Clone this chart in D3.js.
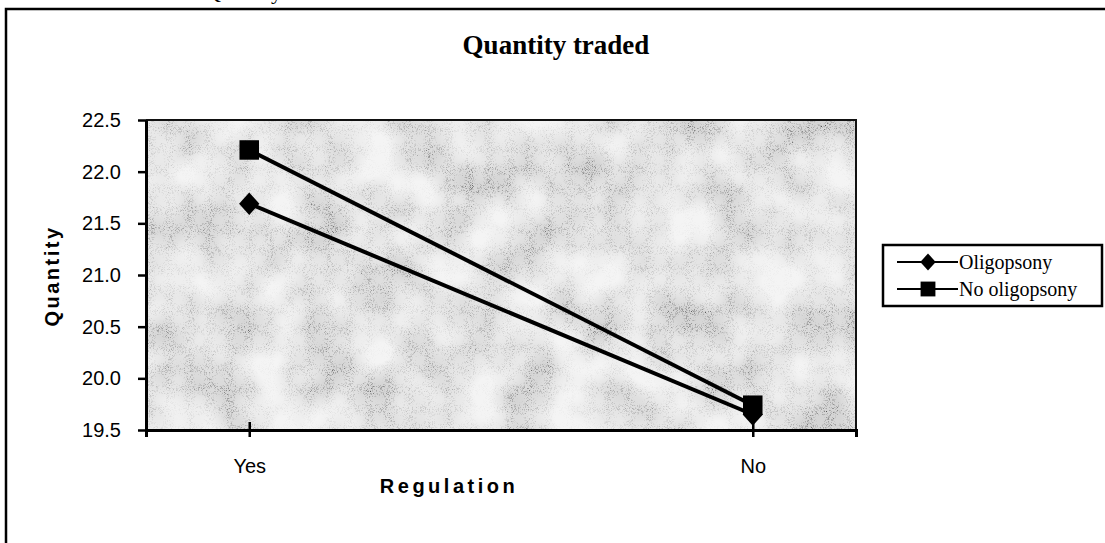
<!doctype html>
<html>
<head>
<meta charset="utf-8" />
<title>Quantity traded</title>
<script src="https://cdn.jsdelivr.net/npm/d3@7"></script>
<style>
  html, body { margin: 0; padding: 0; background: #fff; }
  svg { display: block; }
</style>
</head>
<body>
<div id="chart"></div>
<script>
// data
var categories = ["Yes", "No"];
var oligopsony = [21.69, 19.65];
var noOligopsony = [22.21, 19.74];
var seriesNames = ["Oligopsony", "No oligopsony"];
var yTicks = [19.5, 20.0, 20.5, 21.0, 21.5, 22.0, 22.5];

var W = 1105, H = 543;
var plot = {left: 146, right: 856, top: 120, bottom: 430};

var svg = d3.select("#chart").append("svg")
  .attr("width", W).attr("height", H);

// mottled grey fill like the old spreadsheet texture
var defs = svg.append("defs");
var f = defs.append("filter").attr("id", "granite")
  .attr("x", 0).attr("y", 0).attr("width", 1).attr("height", 1);
f.append("feTurbulence").attr("type", "fractalNoise")
  .attr("baseFrequency", 0.02).attr("numOctaves", 2).attr("seed", 7)
  .attr("result", "big");
f.append("feColorMatrix").attr("in", "big").attr("type", "matrix")
  .attr("values", "0 0 0 0 0  0 0 0 0 0  0 0 0 0 0  -2.0 0 0 0 1.45")
  .attr("result", "bigA");
f.append("feTurbulence").attr("type", "turbulence")
  .attr("baseFrequency", 0.95).attr("numOctaves", 1).attr("seed", 3)
  .attr("result", "grain");
f.append("feColorMatrix").attr("in", "grain").attr("type", "matrix")
  .attr("values", "0 0 0 0 0  0 0 0 0 0  0 0 0 0 0  2.0 0 0 0 -0.35")
  .attr("result", "grainA");
f.append("feComposite").attr("in", "grainA").attr("in2", "bigA")
  .attr("operator", "arithmetic").attr("k1", 0.7).attr("k2", 0.1).attr("k3", 0.3)
  .attr("result", "mix");
f.append("feFlood").attr("flood-color", "#555").attr("result", "dark");
f.append("feComposite").attr("in", "dark").attr("in2", "mix").attr("operator", "in")
  .attr("result", "shade");
f.append("feFlood").attr("flood-color", "#f4f4f4").attr("result", "paper");
f.append("feMerge").selectAll("feMergeNode").data(["paper", "shade"]).enter()
  .append("feMergeNode").attr("in", function(d) { return d; });

// outer frame + clipped caption on top
svg.append("text").attr("x", 205).attr("y", -1)
  .attr("font-family", "Liberation Serif").attr("font-size", 22)
  .text("Quantity");
svg.append("path")
  .attr("d", "M6," + H + "V9H" + W)
  .attr("fill", "none").attr("stroke", "#000").attr("stroke-width", 2.5);

// plot area
svg.append("rect")
  .attr("x", plot.left).attr("y", plot.top)
  .attr("width", plot.right - plot.left).attr("height", plot.bottom - plot.top)
  .attr("fill", "#ccc").attr("filter", "url(#granite)");
svg.append("path")
  .attr("d", "M" + plot.left + "," + plot.top + "H" + plot.right + "V" + plot.bottom)
  .attr("fill", "none").attr("stroke", "#111").attr("stroke-width", 2);

var x = d3.scalePoint().domain(categories)
  .range([plot.left, plot.right]).padding(0.205);
var y = d3.scaleLinear().domain([19.5, 22.5]).range([plot.bottom, plot.top]);

// axes
var yAxis = svg.append("g")
  .attr("transform", "translate(" + plot.left + ",0)")
  .call(d3.axisLeft(y).tickValues(yTicks).tickFormat(d3.format(".1f"))
    .tickSizeInner(8).tickSizeOuter(0).tickPadding(17));
yAxis.select(".domain").attr("stroke-width", 3);
yAxis.selectAll(".tick line").attr("stroke-width", 2.5);
yAxis.selectAll("text").style("font-family", "Liberation Sans").style("font-size", "20px")
  .attr("fill", "#000");

var xAxis = svg.append("g")
  .attr("transform", "translate(0," + plot.bottom + ")")
  .call(d3.axisBottom(x).tickSizeInner(7).tickSizeOuter(7).tickPadding(22));
xAxis.select(".domain").attr("stroke-width", 3);
xAxis.selectAll(".tick line").attr("y1", -8).attr("stroke-width", 2.5);
xAxis.selectAll("text").style("font-family", "Liberation Sans").style("font-size", "20px")
  .attr("fill", "#000");

// axis titles
svg.append("text")
  .attr("x", 449).attr("y", 493).attr("text-anchor", "middle")
  .style("font-family", "Liberation Sans").style("font-weight", "bold")
  .style("font-size", "20px").attr("letter-spacing", 3.5)
  .text("Regulation");
svg.append("text")
  .attr("transform", "translate(59,276) rotate(-90)").attr("text-anchor", "middle")
  .style("font-family", "Liberation Sans").style("font-weight", "bold")
  .style("font-size", "20px").attr("letter-spacing", 2.5)
  .text("Quantity");

// chart title
svg.append("text")
  .attr("x", 556).attr("y", 54).attr("text-anchor", "middle")
  .style("font-family", "Liberation Serif").style("font-weight", "bold")
  .style("font-size", "27px")
  .text("Quantity traded");

// wider diamond than d3's default
var diamond = {
  draw: function(ctx, size) {
    var h = Math.sqrt(size) * 0.62, w = h * 0.9;
    ctx.moveTo(0, -h); ctx.lineTo(w, 0); ctx.lineTo(0, h); ctx.lineTo(-w, 0); ctx.closePath();
  }
};

// series
var series = [
  {name: seriesNames[0], values: oligopsony, shape: diamond},
  {name: seriesNames[1], values: noOligopsony, shape: d3.symbolSquare}
];
var line = d3.line()
  .x(function(d, i) { return x(categories[i]); })
  .y(function(d) { return y(d); });

series.forEach(function(s) {
  svg.append("path").attr("d", line(s.values))
    .attr("fill", "none").attr("stroke", "#000").attr("stroke-width", 4);
  svg.selectAll(null).data(s.values).enter().append("path")
    .attr("transform", function(d, i) { return "translate(" + x(categories[i]) + "," + y(d) + ")"; })
    .attr("d", d3.symbol().type(s.shape).size(s.shape === d3.symbolSquare ? 380 : 330))
    .attr("fill", "#000");
});

// legend
var lg = svg.append("g");
lg.append("rect").attr("x", 883).attr("y", 245).attr("width", 219).attr("height", 61)
  .attr("fill", "#fff").attr("stroke", "#000").attr("stroke-width", 2.5);
series.forEach(function(s, i) {
  var ly = 262 + i * 27;
  lg.append("line").attr("x1", 897).attr("x2", 958).attr("y1", ly).attr("y2", ly)
    .attr("stroke", "#000").attr("stroke-width", 2);
  lg.append("path").attr("transform", "translate(928," + ly + ")")
    .attr("d", d3.symbol().type(s.shape).size(s.shape === d3.symbolSquare ? 220 : 190))
    .attr("fill", "#000");
  lg.append("text").attr("x", 959).attr("y", ly + 7)
    .style("font-family", "Liberation Serif").style("font-size", "20px")
    .text(s.name);
});
</script>
</body>
</html>
